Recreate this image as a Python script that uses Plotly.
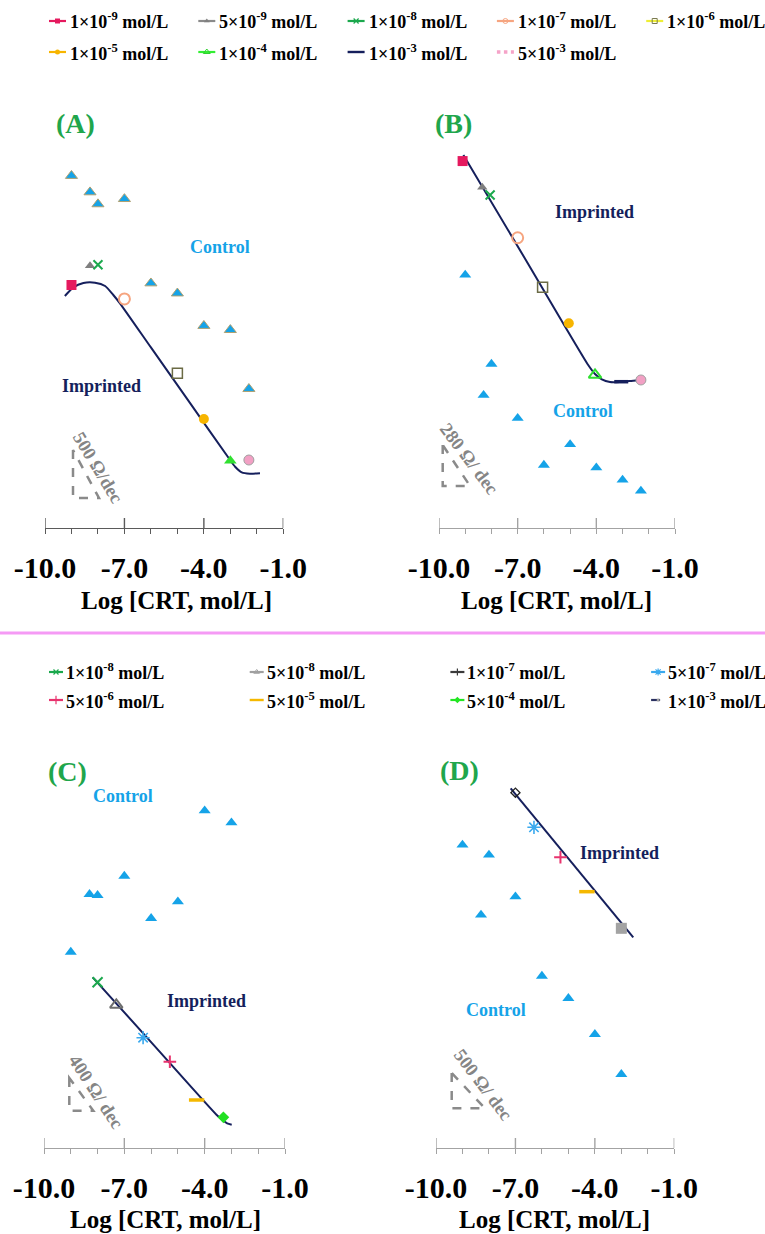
import plotly.graph_objects as go

W, H = 765, 1234
SERIF = "Liberation Serif, Times New Roman, serif"


def fx(px):
    return px / W


def fy(py):
    return 1 - py / H


# x: log10 of concentration (mol/L); y: resistance signal (ohm)
# ---------------- Panel A ----------------
a_ctrl_x = [-9.0, -8.3, -8.0, -7.0, -6.0, -5.0, -4.0, -3.0, -2.3]
a_ctrl_y = [4720, 4500, 4340, 4410, 3280, 3145, 2710, 2655, 1865]
a_imp_c = ["1e-9", "5e-9", "1e-8", "1e-7", "1e-6", "1e-5", "1e-4", "5e-3"]
a_imp_x = [-9.0, -8.3, -8.0, -7.0, -5.0, -4.0, -3.0, -2.3]
a_imp_y = [3256, 3515, 3528, 3069, 2073, 1461, 902, 911]
a_fit_x = [-9.25, -8.93, -8.55, -8.11, -7.73, -7.42, -7.17, -6.0, -4.5, -3.01, -2.82, -2.57, -2.26, -1.88]
a_fit_y = [3109, 3225, 3283, 3287, 3243, 3122, 3011, 2420, 1663, 911, 821, 746, 728, 733]

# ---------------- Panel B ----------------
b_ctrl_x = [-9.0, -8.3, -8.0, -7.0, -6.0, -5.0, -4.0, -3.0, -2.3]
b_ctrl_y = [1607, 843, 1041, 697, 400, 531, 383, 305, 235]
b_imp_c = ["1e-9", "5e-9", "1e-8", "1e-7", "1e-6", "1e-5", "1e-4", "1e-3", "5e-3"]
b_imp_x = [-9.1, -8.35, -8.05, -7.0, -6.05, -5.05, -4.05, -3.05, -2.3]
b_imp_y = [2330, 2163, 2115, 1843, 1528, 1300, 972, 929, 940]
b_fit_x = [-9.07, -6.7, -4.31, -4.05, -3.79, -3.48, -3.10, -2.72, -2.36]
b_fit_y = [2369, 1705, 1035, 978, 944, 927, 927, 933, 940]

# ---------------- Panel C ----------------
c_ctrl_x = [-9.0, -8.3, -8.0, -7.0, -6.0, -5.0, -4.0, -3.0]
c_ctrl_y = [2646, 3425, 3411, 3672, 3101, 3325, 4554, 4392]
c_imp_c = ["1e-8", "5e-8", "5e-7", "5e-6", "5e-5", "5e-4"]
c_imp_x = [-8.0, -7.3, -6.3, -5.3, -4.3, -3.3]
c_imp_y = [2237, 1931, 1489, 1165, 648, 414]
c_fit_x = [-8.18, -5.9, -3.55, -3.33, -3.16, -2.99]
c_fit_y = [2304, 1389, 446, 378, 333, 315]

# ---------------- Panel D ----------------
d_ctrl_x = [-9.0, -8.3, -8.0, -7.0, -6.0, -5.0, -4.0, -3.0]
d_ctrl_y = [4697, 3612, 4542, 3895, 2666, 2320, 1762, 1142]
d_imp_c = ["1e-7", "5e-7", "5e-6", "5e-5", "1e-3"]
d_imp_x = [-7.0, -6.3, -5.3, -4.3, -3.0]
d_imp_y = [5507, 4971, 4506, 3973, 3405]
d_fit_x = [-7.18, -2.55]
d_fit_y = [5575, 3266]

# legend entries
conc_ab = ["1e-9", "5e-9", "1e-8", "1e-7", "1e-6", "1e-5", "1e-4", "1e-3", "5e-3"]
label_ab = ["1×10<sup>-9</sup> mol/L", "5×10<sup>-9</sup> mol/L", "1×10<sup>-8</sup> mol/L",
            "1×10<sup>-7</sup> mol/L", "1×10<sup>-6</sup> mol/L", "1×10<sup>-5</sup> mol/L",
            "1×10<sup>-4</sup> mol/L", "1×10<sup>-3</sup> mol/L", "5×10<sup>-3</sup> mol/L"]
conc_cd = ["1e-8", "5e-8", "1e-7", "5e-7", "5e-6", "5e-5", "5e-4", "1e-3"]
label_cd = ["1×10<sup>-8</sup> mol/L", "5×10<sup>-8</sup> mol/L", "1×10<sup>-7</sup> mol/L",
            "5×10<sup>-7</sup> mol/L", "5×10<sup>-6</sup> mol/L", "5×10<sup>-5</sup> mol/L",
            "5×10<sup>-4</sup> mol/L", "1×10<sup>-3</sup> mol/L"]

tick_vals = [-10, -7, -4, -1]
tick_text = ["-10.0", "-7.0", "-4.0", "-1.0"]
minor_vals = [-9, -8, -6, -5, -3, -2]

# ---------------- styles ----------------
BLUE = "#15a3e8"
NAVY = "#151f5c"
GREEN_TXT = "#1fa64c"
GRAY_TXT = "#858585"


def mk(symbol, color, size, lw=0, lc=None):
    return dict(symbol=symbol, color=color, size=size,
                line=dict(width=lw, color=lc if lc else color))


STY_AB = {
    "1e-9": dict(key="#e5195e", dash="solid", kw=2.2, m=mk("square", "#e5195e", 10)),
    "5e-9": dict(key="#8a8a8a", dash="solid", kw=2.2, m=mk("triangle-up", "#7f7f7f", 9)),
    "1e-8": dict(key="#1ba84d", dash="solid", kw=2.2, m=mk("x-thin", "#1ba84d", 9, 2)),
    "1e-7": dict(key="#f6a580", dash="solid", kw=2.2, m=mk("circle-open", "#f6a580", 11, 2)),
    "1e-6": dict(key="#eeee35", dash="solid", kw=2.2, m=mk("square-open", "#6b6b45", 10, 1.5)),
    "1e-5": dict(key="#f7b500", dash="solid", kw=2.2, m=mk("circle", "#f7b500", 10)),
    "1e-4": dict(key="#33ee33", dash="solid", kw=2.2, m=mk("triangle-up", "#30e030", 11)),
    "1e-3": dict(key=NAVY, dash="solid", kw=2.4, m=mk("line-ew", NAVY, 10, 3.5)),
    "5e-3": dict(key="#f5a3c8", dash="dot", kw=3.5, m=mk("circle", "#f2a0c4", 10, 1, "#a0a0a0")),
}
KEY_AB = {
    "1e-9": mk("square", "#e5195e", 5),
    "5e-9": mk("triangle-up", "#7f7f7f", 5),
    "1e-8": mk("x-thin", "#1ba84d", 5, 1.2),
    "1e-7": mk("circle-open", "#f6a580", 5, 1),
    "1e-6": mk("square-open", "#7a7a50", 5, 1),
    "1e-5": mk("circle", "#f7b500", 5),
    "1e-4": mk("triangle-up-open", "#30d030", 6, 1),
    "1e-3": None,
    "5e-3": None,
}
# open triangle used for the 1e-4 point in panel B
B_OVERRIDE = {"1e-4": mk("triangle-up-open", "#30e030", 11, 2)}

STY_CD = {
    "1e-8": dict(key="#1ba84d", dash="solid", kw=2.2, m=mk("x-thin", "#1ba84d", 10, 2)),
    "5e-8": dict(key="#a0a0a0", dash="solid", kw=2.2, m=mk("triangle-up-open", "#6e6e6e", 11, 2)),
    "1e-7": dict(key="#3a3a3a", dash="solid", kw=2.2, m=mk("diamond-open", "#222222", 7, 1.3)),
    "5e-7": dict(key="#3aa9ee", dash="solid", kw=2.2, m=mk("asterisk", "#3aa9ee", 11, 1.6)),
    "5e-6": dict(key="#e8336e", dash="solid", kw=2.2, m=mk("cross-thin", "#e8336e", 9, 2)),
    "5e-5": dict(key="#f5b800", dash="solid", kw=2.4, m=mk("line-ew", "#f5b800", 11, 3.5)),
    "5e-4": dict(key="#22e622", dash="solid", kw=2.2, m=mk("diamond", "#22e022", 9)),
    "1e-3": dict(key="#2a3060", dash="dash", kw=2.2, m=mk("square", "#a3a3a3", 11)),
}
KEY_CD = {
    "1e-8": mk("x-thin", "#1ba84d", 5, 1.2),
    "5e-8": mk("triangle-up-open", "#a0a0a0", 5, 1),
    "1e-7": mk("cross-thin", "#3a3a3a", 5, 1.2),
    "5e-7": mk("asterisk", "#3aa9ee", 6, 1.2),
    "5e-6": mk("cross-thin", "#e8336e", 6, 1.2),
    "5e-5": None,
    "5e-4": mk("diamond", "#22e622", 5),
    "1e-3": mk("circle", "#a0a0a0", 3),
}

# ---------------- panel geometry (pixels) ----------------
PANELS = {
    "A": dict(ax=1, x0=45, x1=283.3, top=100, base=528, ymax=428 * 13.4, axcol="#5a5a5a"),
    "B": dict(ax=2, x0=439, x1=675, top=100, base=528, ymax=428 * 6.35, axcol="#a3a3a3"),
    "C": dict(ax=3, x0=44, x1=285, top=740, base=1148, ymax=408 * 13.5, axcol="#a3a3a3"),
    "D": dict(ax=4, x0=436, x1=674.3, top=740, base=1148, ymax=408 * 15.5, axcol="#a3a3a3"),
}

fig = go.Figure()
layout_axes = {}
shapes = []
annotations = []


def axname(n, kind):
    return kind if n == 1 else f"{kind}{n}"


for name, p in PANELS.items():
    n = p["ax"]
    xa, ya = axname(n, "xaxis"), axname(n, "yaxis")
    layout_axes[xa] = dict(
        domain=[fx(p["x0"]), fx(p["x1"])], range=[-10, -1], anchor=f"y{'' if n == 1 else n}",
        showline=True, linecolor=p["axcol"], linewidth=1.4, showgrid=False, zeroline=False,
        ticks="outside", ticklen=5, tickwidth=1.4, tickcolor=p["axcol"],
        tickvals=tick_vals, ticktext=tick_text, ticklabelstandoff=8,
        tickfont=dict(family=SERIF, size=30, color="black", weight="bold"),
        minor=dict(tickvals=minor_vals, ticks="outside", ticklen=5, tickwidth=1.4, tickcolor=p["axcol"]),
        fixedrange=True, automargin=False,
    )
    layout_axes[ya] = dict(
        domain=[fy(p["base"]), fy(p["top"])], range=[0, p["ymax"]], anchor=f"x{'' if n == 1 else n}",
        visible=False, fixedrange=True, automargin=False,
    )
    # major ticks also rise above the axis line
    for v in tick_vals:
        shapes.append(dict(type="line", xref=f"x{'' if n == 1 else n}", yref="paper",
                           x0=v, x1=v, y0=fy(p["base"]), y1=fy(p["base"] - 10),
                           line=dict(color=p["axcol"], width=1.4)))


def add_panel(n, ctrl_x, ctrl_y, imp_c, imp_x, imp_y, fit_x, fit_y, styles, override=None, ctrl_edge=None):
    xr = "x" if n == 1 else f"x{n}"
    yr = "y" if n == 1 else f"y{n}"
    fig.add_trace(go.Scatter(x=fit_x, y=fit_y, mode="lines", xaxis=xr, yaxis=yr,
                             line=dict(color=NAVY, width=2, shape="spline", smoothing=0.6),
                             showlegend=False, hoverinfo="skip"))
    fig.add_trace(go.Scatter(x=ctrl_x, y=ctrl_y, mode="markers", xaxis=xr, yaxis=yr,
                             marker=dict(symbol="triangle-up", size=10.5, color=BLUE,
                                         line=dict(width=1 if ctrl_edge else 0,
                                                   color=ctrl_edge or BLUE)),
                             cliponaxis=False, showlegend=False))
    for c, x, y in zip(imp_c, imp_x, imp_y):
        m = (override or {}).get(c, styles[c]["m"])
        fig.add_trace(go.Scatter(x=[x], y=[y], mode="markers", xaxis=xr, yaxis=yr,
                                 marker=m, cliponaxis=False, showlegend=False))


add_panel(1, a_ctrl_x, a_ctrl_y, a_imp_c, a_imp_x, a_imp_y, a_fit_x, a_fit_y, STY_AB, ctrl_edge="#b0a070")
add_panel(2, b_ctrl_x, b_ctrl_y, b_imp_c, b_imp_x, b_imp_y, b_fit_x, b_fit_y, STY_AB, override=B_OVERRIDE)
add_panel(3, c_ctrl_x, c_ctrl_y, c_imp_c, c_imp_x, c_imp_y, c_fit_x, c_fit_y, STY_CD)
add_panel(4, d_ctrl_x, d_ctrl_y, d_imp_c, d_imp_x, d_imp_y, d_fit_x, d_fit_y, STY_CD)

# ---------------- legend keys on a full-page overlay axis ----------------
layout_axes["xaxis5"] = dict(domain=[0, 1], range=[0, W], visible=False, fixedrange=True,
                             anchor="y5", automargin=False)
layout_axes["yaxis5"] = dict(domain=[0, 1], range=[H, 0], visible=False, fixedrange=True,
                             anchor="x5", automargin=False)


def legend_block(concs, labels, styles, keys, left, col_w, ncol, row_y, key_len, gap):
    for i, (c, lab) in enumerate(zip(concs, labels)):
        r, k = divmod(i, ncol)
        x0 = left + k * col_w
        y = row_y[r]
        st = styles[c]
        fig.add_trace(go.Scatter(x=[x0, x0 + key_len], y=[y, y], mode="lines", xaxis="x5", yaxis="y5",
                                 line=dict(color=st["key"], width=st["kw"], dash=st["dash"]),
                                 showlegend=False, hoverinfo="skip"))
        if keys[c] is not None:
            fig.add_trace(go.Scatter(x=[x0 + key_len / 2], y=[y], mode="markers", xaxis="x5", yaxis="y5",
                                     marker=keys[c], showlegend=False, hoverinfo="skip"))
        annotations.append(dict(text=lab, x=fx(x0 + key_len + gap), y=fy(y), xref="paper", yref="paper",
                                xanchor="left", yanchor="middle", showarrow=False,
                                font=dict(family=SERIF, size=18, color="black", weight="bold")))


legend_block(conc_ab, label_ab, STY_AB, KEY_AB, left=49, col_w=149.3, ncol=5,
             row_y=[21, 52], key_len=17, gap=2)
legend_block(conc_cd, label_cd, STY_CD, KEY_CD, left=49, col_w=200.7, ncol=4,
             row_y=[672, 700], key_len=14, gap=1)


# ---------------- text labels ----------------
def text(t, px, py, size, color, angle=0, anchor="center"):
    annotations.append(dict(text=t, x=fx(px), y=fy(py), xref="paper", yref="paper",
                            xanchor=anchor, yanchor="middle", showarrow=False, textangle=angle,
                            font=dict(family=SERIF, size=size, color=color, weight="bold")))


text("(A)", 75, 123, 28, GREEN_TXT)
text("(B)", 453, 123.5, 28, GREEN_TXT)
text("(C)", 67, 771, 28, GREEN_TXT)
text("(D)", 459, 770.5, 28, GREEN_TXT)

text("Control", 219.7, 247, 18, BLUE)
text("Imprinted", 101.7, 385.7, 18, NAVY)
text("Imprinted", 594.7, 212, 18, NAVY)
text("Control", 582.5, 411, 18, BLUE)
text("Control", 123, 796.3, 18, BLUE)
text("Imprinted", 206, 1001, 18, NAVY)
text("Imprinted", 619.7, 853, 18, NAVY)
text("Control", 496, 1010.3, 18, BLUE)

text("500 Ω/dec", 98, 468, 18.5, GRAY_TXT, angle=59)
text("280 Ω/ dec", 469, 459, 18.5, GRAY_TXT, angle=53)
text("400 Ω/ dec", 96, 1092, 18.5, GRAY_TXT, angle=57)
text("500 Ω/ dec", 483, 1085, 18.5, GRAY_TXT, angle=53)

for cx, ty in [(176, 600), (556, 600), (165, 1219), (554, 1219)]:
    text("Log [CRT, mol/L]", cx, ty, 25, "black")

# slope triangles (dashed)
for (l, t, b, r) in [(73, 450, 498, 99), (442.7, 445, 486, 470), (69.3, 1078, 1110.7, 93.3),
                     (451.7, 1073, 1108.3, 485)]:
    shapes.append(dict(type="path", xref="paper", yref="paper",
                       path=f"M {fx(l)},{fy(t)} L {fx(l)},{fy(b)} L {fx(r)},{fy(b)} Z",
                       line=dict(color="#8a8a8a", width=2.5, dash="dash")))

# divider between the two rows of panels
shapes.append(dict(type="line", xref="paper", yref="paper", x0=0, x1=1, y0=fy(633), y1=fy(633),
                   line=dict(color="#f59af5", width=3)))

fig.update_layout(
    width=W, height=H, margin=dict(l=0, r=0, t=0, b=0, autoexpand=False),
    paper_bgcolor="white", plot_bgcolor="rgba(0,0,0,0)",
    showlegend=False, shapes=shapes, annotations=annotations,
    **layout_axes,
)

fig.write_html("out.html")
